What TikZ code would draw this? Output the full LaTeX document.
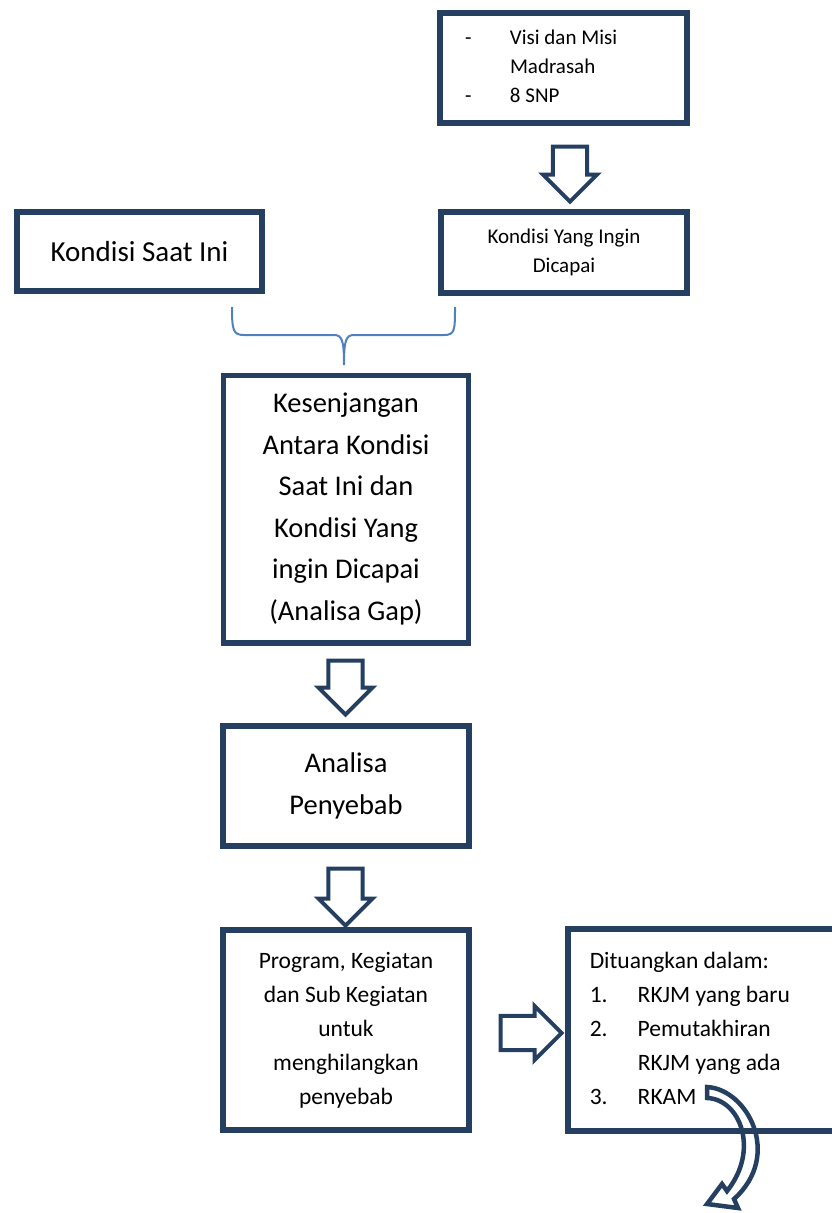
\documentclass[tikz,border=0pt]{standalone}
\usepackage{fontspec}
\setmainfont{Carlito}
\usetikzlibrary{shapes.arrows}
\definecolor{navy}{HTML}{243F60}
\definecolor{bracecol}{HTML}{4F81BD}
\tikzstyle{box}=[draw=navy,line width=5.5pt,align=center,inner sep=0pt,font=\fontsize{28.5}{41.5}\selectfont]
\tikzstyle{smallbox}=[box,font=\fontsize{21}{29}\selectfont]
\tikzstyle{listbox}=[box,font=\fontsize{23.5}{34}\selectfont]
\tikzstyle{hollow}=[single arrow,draw=navy,fill=white,line width=4pt,inner xsep=0pt,inner ysep=10.5pt,minimum width=54pt,single arrow tip angle=90]
\tikzstyle{downarrow}=[hollow,rotate=-90]

\begin{document}
\begin{tikzpicture}[x=1pt,y=-1pt]
    \useasboundingbox (0,0) rectangle (832,1213);
    \clip (0,0) rectangle (832,1213);

    % curved arrow leaving the list (under the box border)
    \draw[navy,fill=white,line width=4.5pt,line join=miter]
        (707,1087) .. controls (747,1089) and (783,1155) .. (734,1199)
        -- (738,1208) -- (707,1204) -- (722,1184) -- (727,1191)
        .. controls (760,1150) and (740,1099) .. (707,1098) -- cycle;

    % the boxes
    \node[smallbox,minimum width=247pt,minimum height=110pt,text width=197pt,inner xsep=25pt,align=left] (visi) at (563.5,68)
        {\spaceskip0pt\xspaceskip0pt\begin{tabular}{@{}p{45pt}@{}l@{}}-&Visi dan Misi\\&Madrasah\\-&8 SNP\end{tabular}};
    \node[smallbox,minimum width=246pt,minimum height=81pt] (ingin) at (564,252.5) {Kondisi Yang Ingin\\Dicapai};
    \node[box,minimum width=245pt,minimum height=79pt,font=\fontsize{29}{41.5}\selectfont] (saat) at (139.5,251.5) {Kondisi Saat Ini};
    \node[box,minimum width=245pt,minimum height=267.5pt] (gap) at (346,509)
        {Kesenjangan\\Antara Kondisi\\Saat Ini dan\\Kondisi Yang\\ingin Dicapai\\(Analisa Gap)};
    \node[box,minimum width=246pt,minimum height=120pt] (sebab) at (346,786) {Analisa\\Penyebab};
    \node[listbox,minimum width=246pt,minimum height=200pt] (prog) at (346,1030)
        {Program, Kegiatan\\dan Sub Kegiatan\\untuk\\menghilangkan\\penyebab};
    \node[listbox,anchor=north west,minimum width=300pt,minimum height=202pt,text width=256pt,inner xsep=22pt,align=left] (tuang) at (565,926)
        {\spaceskip0pt\xspaceskip0pt\begin{tabular}{@{}p{48pt}@{}l@{}}\multicolumn{2}{@{}l}{Dituangkan dalam:}\\1.&RKJM yang baru\\2.&Pemutakhiran\\&RKJM yang ada\\3.&RKAM\end{tabular}};

    % the block arrows
    \foreach \pos/\len/\name in {{(570,165.5)/55/a0}, {(345.5,679)/54/a1}, {(345.5,888.5)/57/a2}}
        \node[downarrow,minimum height=\len pt] (\name) at \pos {};
    \node[hollow,minimum height=61pt] (a3) at (522.5,1033) {};

    % brace joining the two conditions
    \coordinate (bracetip) at (344,365);
    \draw[bracecol,line width=2pt]
        (232,307) .. controls (232,330) and (233,335) .. (244,335) -- (334,335)
        .. controls (342,335) and (344,340) .. (bracetip)
        .. controls (344,340) and (346,335) .. (354,335) -- (444,335)
        .. controls (455,335) and (455,330) .. (455,307);
\end{tikzpicture}
\end{document}
